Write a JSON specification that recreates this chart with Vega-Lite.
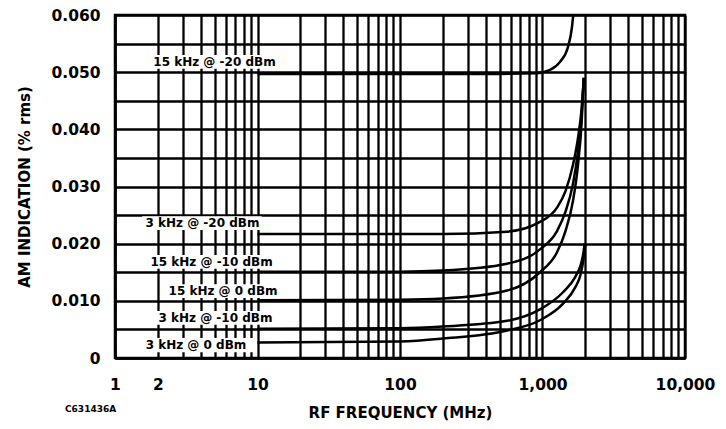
{
  "$schema": "https://vega.github.io/schema/vega-lite/v6.json",
  "autosize": {"type": "none"},
  "width": 570,
  "height": 343,
  "padding": {"left": 115, "top": 15, "right": 41, "bottom": 71},
  "background": "white",
  "config": {
    "view": {"stroke": "black", "strokeWidth": 2.5},
    "font": "DejaVu Sans",
    "axis": {
      "labelFont": "DejaVu Sans", "labelFontWeight": "bold", "labelFontSize": 15.5, "labelColor": "black",
      "titleFont": "DejaVu Sans", "titleFontWeight": "bold", "titleFontSize": 15, "titleColor": "black",
      "gridColor": "black", "gridWidth": 2.3, "gridOpacity": 1,
      "domainColor": "black", "domainWidth": 2.5,
      "ticks": false, "labelOverlap": false, "labelFlush": false
    },
    "axisX": {
      "title": "RF FREQUENCY (MHz)",
      "values": [1,2,3,4,5,6,7,8,9,10,20,30,40,50,60,70,80,90,100,200,300,400,500,600,700,800,900,1000,2000,3000,4000,5000,6000,7000,8000,9000,10000],
      "labelExpr": "indexof([1,2,10,100,1000,10000], datum.value) >= 0 ? format(datum.value, ',') : ''",
      "labelPadding": 19,
      "titleY": 54, "titleBaseline": "middle"
    },
    "axisY": {
      "values": [0,0.005,0.01,0.015,0.02,0.025,0.03,0.035,0.04,0.045,0.05,0.055,0.06],
      "labelExpr": "datum.value == 0 ? '0' : (round(datum.value*1000) % 10 == 0 ? format(datum.value, '.3f') : '')",
      "labelPadding": 15,
      "titleX": -83
    }
  },
  "title": {
    "text": "C631436A", "orient": "bottom", "anchor": "start", "frame": "group",
    "font": "DejaVu Sans", "fontWeight": "bold", "fontSize": 9, "color": "black",
    "dx": -50, "dy": -19
  },
  "datasets": {
    "curves": [
      {"series": "15 kHz @ -20 dBm", "freq": 10, "value": 0.0497},
      {"series": "15 kHz @ -20 dBm", "freq": 100, "value": 0.0497},
      {"series": "15 kHz @ -20 dBm", "freq": 500, "value": 0.0497},
      {"series": "15 kHz @ -20 dBm", "freq": 900, "value": 0.0498},
      {"series": "15 kHz @ -20 dBm", "freq": 1130, "value": 0.0504},
      {"series": "15 kHz @ -20 dBm", "freq": 1327, "value": 0.0518},
      {"series": "15 kHz @ -20 dBm", "freq": 1510, "value": 0.0544},
      {"series": "15 kHz @ -20 dBm", "freq": 1610, "value": 0.0579},
      {"series": "15 kHz @ -20 dBm", "freq": 1650, "value": 0.0605},

      {"series": "3 kHz @ -20 dBm", "freq": 10, "value": 0.0217},
      {"series": "3 kHz @ -20 dBm", "freq": 100, "value": 0.0217},
      {"series": "3 kHz @ -20 dBm", "freq": 200, "value": 0.0217},
      {"series": "3 kHz @ -20 dBm", "freq": 564, "value": 0.0221},
      {"series": "3 kHz @ -20 dBm", "freq": 960, "value": 0.0238},
      {"series": "3 kHz @ -20 dBm", "freq": 1264, "value": 0.0263},
      {"series": "3 kHz @ -20 dBm", "freq": 1450, "value": 0.0292},
      {"series": "3 kHz @ -20 dBm", "freq": 1637, "value": 0.0338},
      {"series": "3 kHz @ -20 dBm", "freq": 1775, "value": 0.0385},
      {"series": "3 kHz @ -20 dBm", "freq": 1880, "value": 0.0435},
      {"series": "3 kHz @ -20 dBm", "freq": 1950, "value": 0.049},

      {"series": "15 kHz @ -10 dBm", "freq": 10, "value": 0.0151},
      {"series": "15 kHz @ -10 dBm", "freq": 100, "value": 0.0151},
      {"series": "15 kHz @ -10 dBm", "freq": 200, "value": 0.0153},
      {"series": "15 kHz @ -10 dBm", "freq": 564, "value": 0.0165},
      {"series": "15 kHz @ -10 dBm", "freq": 960, "value": 0.019},
      {"series": "15 kHz @ -10 dBm", "freq": 1264, "value": 0.0222},
      {"series": "15 kHz @ -10 dBm", "freq": 1450, "value": 0.0256},
      {"series": "15 kHz @ -10 dBm", "freq": 1637, "value": 0.0305},
      {"series": "15 kHz @ -10 dBm", "freq": 1775, "value": 0.0362},
      {"series": "15 kHz @ -10 dBm", "freq": 1880, "value": 0.0425},
      {"series": "15 kHz @ -10 dBm", "freq": 1950, "value": 0.049},

      {"series": "15 kHz @ 0 dBm", "freq": 10, "value": 0.0101},
      {"series": "15 kHz @ 0 dBm", "freq": 100, "value": 0.0102},
      {"series": "15 kHz @ 0 dBm", "freq": 200, "value": 0.0104},
      {"series": "15 kHz @ 0 dBm", "freq": 564, "value": 0.0118},
      {"series": "15 kHz @ 0 dBm", "freq": 960, "value": 0.015},
      {"series": "15 kHz @ 0 dBm", "freq": 1264, "value": 0.0185},
      {"series": "15 kHz @ 0 dBm", "freq": 1450, "value": 0.0222},
      {"series": "15 kHz @ 0 dBm", "freq": 1637, "value": 0.0275},
      {"series": "15 kHz @ 0 dBm", "freq": 1775, "value": 0.0338},
      {"series": "15 kHz @ 0 dBm", "freq": 1880, "value": 0.041},
      {"series": "15 kHz @ 0 dBm", "freq": 1950, "value": 0.049},

      {"series": "3 kHz @ -10 dBm", "freq": 10, "value": 0.0051},
      {"series": "3 kHz @ -10 dBm", "freq": 100, "value": 0.0052},
      {"series": "3 kHz @ -10 dBm", "freq": 200, "value": 0.0055},
      {"series": "3 kHz @ -10 dBm", "freq": 564, "value": 0.0065},
      {"series": "3 kHz @ -10 dBm", "freq": 960, "value": 0.0085},
      {"series": "3 kHz @ -10 dBm", "freq": 1393, "value": 0.0115},
      {"series": "3 kHz @ -10 dBm", "freq": 1700, "value": 0.0142},
      {"series": "3 kHz @ -10 dBm", "freq": 1850, "value": 0.0162},
      {"series": "3 kHz @ -10 dBm", "freq": 1940, "value": 0.0185},
      {"series": "3 kHz @ -10 dBm", "freq": 1975, "value": 0.02},

      {"series": "3 kHz @ 0 dBm", "freq": 10, "value": 0.0027},
      {"series": "3 kHz @ 0 dBm", "freq": 100, "value": 0.0029},
      {"series": "3 kHz @ 0 dBm", "freq": 200, "value": 0.0034},
      {"series": "3 kHz @ 0 dBm", "freq": 564, "value": 0.0048},
      {"series": "3 kHz @ 0 dBm", "freq": 960, "value": 0.0066},
      {"series": "3 kHz @ 0 dBm", "freq": 1393, "value": 0.0095},
      {"series": "3 kHz @ 0 dBm", "freq": 1700, "value": 0.0124},
      {"series": "3 kHz @ 0 dBm", "freq": 1850, "value": 0.0146},
      {"series": "3 kHz @ 0 dBm", "freq": 1945, "value": 0.0175},
      {"series": "3 kHz @ 0 dBm", "freq": 1995, "value": 0.0198}
    ],
    "labels": [
      {"label": "15 kHz @ -20 dBm", "fx": 4.99, "fy": 0.0518, "lo": 1.6, "hi": 15.6, "ylo": 0.0506, "yhi": 0.053},
      {"label": "3 kHz @ -20 dBm", "fx": 4.11, "fy": 0.0236, "lo": 1.55, "hi": 10.7, "ylo": 0.0224, "yhi": 0.0248},
      {"label": "15 kHz @ -10 dBm", "fx": 4.76, "fy": 0.0168, "lo": 1.55, "hi": 14.4, "ylo": 0.0156, "yhi": 0.018},
      {"label": "15 kHz @ 0 dBm", "fx": 5.73, "fy": 0.0117, "lo": 2.24, "hi": 14.4, "ylo": 0.0105, "yhi": 0.0129},
      {"label": "3 kHz @ -10 dBm", "fx": 5.07, "fy": 0.007, "lo": 1.76, "hi": 14.4, "ylo": 0.0058, "yhi": 0.0082},
      {"label": "3 kHz @ 0 dBm", "fx": 3.7, "fy": 0.0023, "lo": 1.47, "hi": 9.3, "ylo": 0.001, "yhi": 0.0035}
    ]
  },
  "layer": [
    {
      "data": {"name": "labels"},
      "mark": {"type": "rect", "color": "white"},
      "encoding": {
        "x": {"field": "lo", "type": "quantitative", "title": "RF FREQUENCY (MHz)", "scale": {"type": "log", "domain": [1, 10000]}},
        "x2": {"field": "hi"},
        "y": {"field": "ylo", "type": "quantitative", "title": "AM INDICATION (% rms)", "scale": {"domain": [0, 0.06], "nice": false}},
        "y2": {"field": "yhi"}
      }
    },
    {
      "data": {"name": "labels"},
      "mark": {"type": "text", "color": "black", "font": "DejaVu Sans", "fontWeight": "bold", "fontSize": 12, "align": "center", "baseline": "middle"},
      "encoding": {
        "x": {"field": "fx", "type": "quantitative", "title": "RF FREQUENCY (MHz)"},
        "y": {"field": "fy", "type": "quantitative", "title": "AM INDICATION (% rms)"},
        "text": {"field": "label"}
      }
    },
    {
      "data": {"name": "curves"},
      "mark": {"type": "line", "color": "black", "strokeWidth": 2.5, "interpolate": "monotone", "clip": true},
      "encoding": {
        "x": {"field": "freq", "type": "quantitative", "title": "RF FREQUENCY (MHz)"},
        "y": {"field": "value", "type": "quantitative", "title": "AM INDICATION (% rms)"},
        "detail": {"field": "series"}
      }
    }
  ]
}
